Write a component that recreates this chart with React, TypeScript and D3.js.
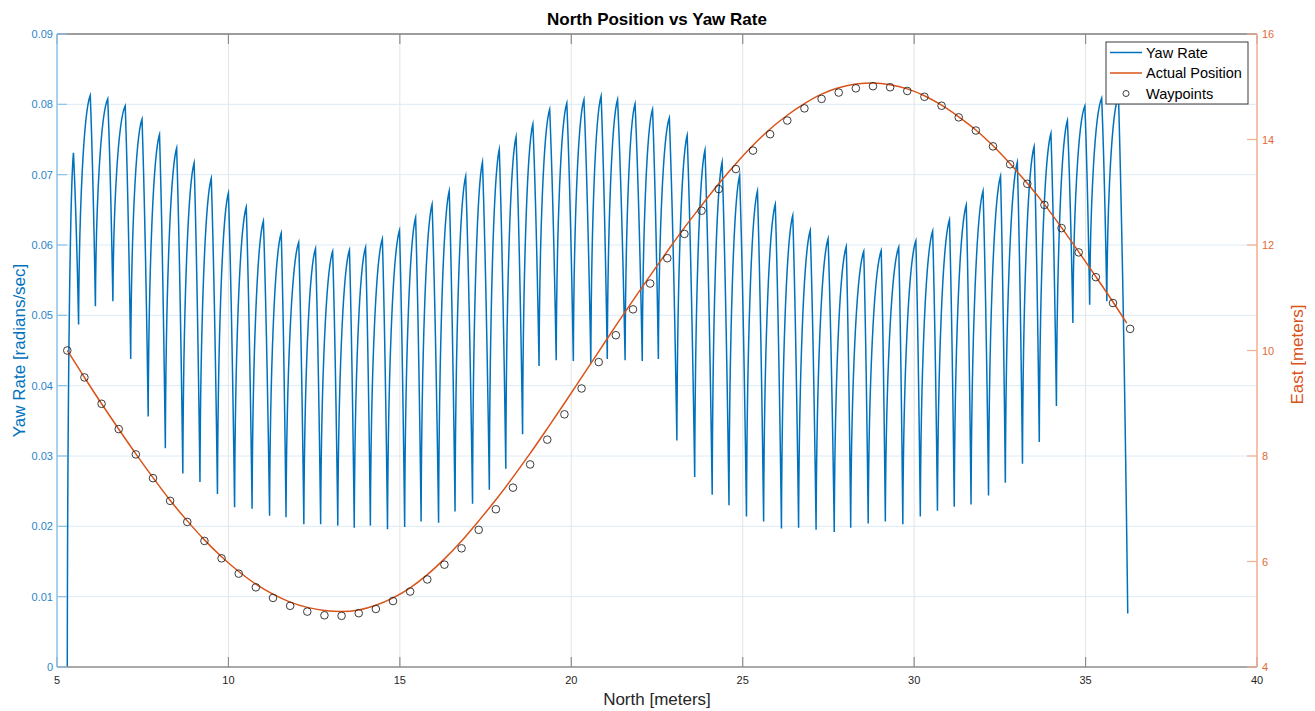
import React from 'react';
import * as d3 from 'd3';

// ---- data -------------------------------------------------------------

const xTicks = [5, 10, 15, 20, 25, 30, 35, 40];
const yawTicks = [0, 0.01, 0.02, 0.03, 0.04, 0.05, 0.06, 0.07, 0.08, 0.09];
const eastTicks = [4, 6, 8, 10, 12, 14, 16];

// yaw rate trace: starting sample, then one crest and one trough per cycle
const yawStart = { north: 5.3, rate: 0 };

const yawPeakNorth = [
  5.48, 5.97, 6.48, 6.99, 7.48, 7.99, 8.49, 9.0, 9.5, 10.0, 10.52, 11.02, 11.54, 12.05, 12.54, 13.04, 13.53,
  14.0, 14.49, 14.99, 15.46, 15.94, 16.44, 16.92, 17.41, 17.9, 18.39, 18.88, 19.37, 19.87, 20.37, 20.87, 21.35, 21.86,
  22.37, 22.86, 23.38, 23.9, 24.4, 24.91, 25.43, 25.95, 26.46, 26.97, 27.49, 28.02, 28.53, 29.04, 29.55, 30.05, 30.54,
  31.03, 31.52, 32.01, 32.52, 33.01, 33.5, 33.99, 34.47, 34.98, 35.47, 35.96,
];
const yawPeakRate = [
  0.0731, 0.0813, 0.0808, 0.0798, 0.0779, 0.0757, 0.0738, 0.0717, 0.0695, 0.0674, 0.0654, 0.0634, 0.0617, 0.0604, 0.0595, 0.0591, 0.0593,
  0.0597, 0.0609, 0.0621, 0.0639, 0.0658, 0.0677, 0.0698, 0.0718, 0.0736, 0.0754, 0.0772, 0.0793, 0.0802, 0.0807, 0.0812, 0.0807, 0.0801,
  0.0793, 0.0781, 0.0756, 0.0735, 0.0718, 0.0699, 0.0677, 0.0658, 0.0642, 0.0621, 0.0609, 0.0598, 0.0591, 0.0592, 0.0597, 0.0606, 0.062,
  0.0636, 0.0657, 0.0677, 0.0698, 0.0718, 0.074, 0.0759, 0.0777, 0.0798, 0.0809, 0.0812,
];
const yawTroughNorth = [
  5.63, 6.12, 6.63, 7.15, 7.66, 8.16, 8.67, 9.17, 9.68, 10.18, 10.69, 11.2, 11.68, 12.2, 12.69, 13.19, 13.67,
  14.14, 14.64, 15.14, 15.62, 16.13, 16.61, 17.12, 17.61, 18.09, 18.58, 19.06, 19.56, 20.06, 20.57, 21.05, 21.57, 22.07,
  22.54, 23.08, 23.6, 24.11, 24.6, 25.11, 25.61, 26.13, 26.63, 27.14, 27.67, 28.15, 28.66, 29.16, 29.67, 30.18, 30.68,
  31.17, 31.66, 32.17, 32.66, 33.16, 33.65, 34.15, 34.63, 35.12, 35.62, 36.23,
];
const yawTroughRate = [
  0.0487, 0.0513, 0.052, 0.0438, 0.0356, 0.0311, 0.0275, 0.0263, 0.0246, 0.0227, 0.0225, 0.0215, 0.0213, 0.0203, 0.0203, 0.0201, 0.0198,
  0.0201, 0.0196, 0.0199, 0.0207, 0.0205, 0.0221, 0.0232, 0.0252, 0.0282, 0.0331, 0.0428, 0.0436, 0.0435, 0.0432, 0.0438, 0.0436, 0.0435,
  0.0438, 0.0322, 0.027, 0.0245, 0.023, 0.0214, 0.0207, 0.0197, 0.0198, 0.0195, 0.0192, 0.0198, 0.0204, 0.0207, 0.0203, 0.0214, 0.0222,
  0.0228, 0.0231, 0.0244, 0.0262, 0.0289, 0.032, 0.0371, 0.0489, 0.0515, 0.052, 0.0076,
];

// actual east position against north
const actualNorth = [
  5.3, 5.8, 6.3, 6.8, 7.3, 7.8, 8.3, 8.8, 9.3, 9.8, 10.3, 10.8, 11.3, 11.8, 12.3, 12.8, 13.3, 13.8, 14.3, 14.8,
  15.3, 15.8, 16.3, 16.8, 17.3, 17.8, 18.3, 18.8, 19.3, 19.8, 20.3, 20.8, 21.3, 21.8, 22.3, 22.8, 23.3, 23.8,
  24.3, 24.8, 25.3, 25.8, 26.3, 26.8, 27.3, 27.8, 28.3, 28.8, 29.3, 29.8, 30.3, 30.8, 31.3, 31.8, 32.3, 32.8,
  33.3, 33.8, 34.3, 34.8, 35.3, 35.8, 36.2,
];
const actualEast = [
  10.0, 9.49, 8.99, 8.51, 8.04, 7.59, 7.16, 6.77, 6.41, 6.09, 5.81, 5.57, 5.38, 5.23, 5.13, 5.07, 5.05, 5.08, 5.17, 5.31,
  5.5, 5.75, 6.05, 6.39, 6.77, 7.17, 7.6, 8.05, 8.52, 9.0, 9.49, 9.98, 10.47, 10.95, 11.42, 11.88, 12.33, 12.75,
  13.16, 13.54, 13.89, 14.2, 14.46, 14.68, 14.86, 14.98, 15.05, 15.07, 15.04, 14.96, 14.83, 14.65, 14.43, 14.18, 13.88, 13.54,
  13.17, 12.77, 12.33, 11.87, 11.4, 10.92, 10.52,
];

// commanded waypoints
const waypointNorth = [
  5.3, 5.8, 6.3, 6.8, 7.3, 7.8, 8.3, 8.8, 9.3, 9.8, 10.3, 10.8, 11.3, 11.8, 12.3, 12.8, 13.3, 13.8, 14.3, 14.8,
  15.3, 15.8, 16.3, 16.8, 17.3, 17.8, 18.3, 18.8, 19.3, 19.8, 20.3, 20.8, 21.3, 21.8, 22.3, 22.8, 23.3, 23.8,
  24.3, 24.8, 25.3, 25.8, 26.3, 26.8, 27.3, 27.8, 28.3, 28.8, 29.3, 29.8, 30.3, 30.8, 31.3, 31.8, 32.3, 32.8,
  33.3, 33.8, 34.3, 34.8, 35.3, 35.8, 36.3,
];
const waypointEast = [
  10.0, 9.49, 8.99, 8.51, 8.03, 7.58, 7.15, 6.75, 6.39, 6.06, 5.77, 5.51, 5.31, 5.16, 5.05, 4.98, 4.97, 5.02, 5.1, 5.25,
  5.43, 5.66, 5.94, 6.25, 6.6, 6.99, 7.4, 7.84, 8.31, 8.79, 9.28, 9.78, 10.29, 10.78, 11.27, 11.75, 12.21, 12.65,
  13.06, 13.44, 13.79, 14.1, 14.36, 14.59, 14.77, 14.89, 14.97, 15.01, 14.99, 14.92, 14.81, 14.64, 14.42, 14.17, 13.87, 13.53,
  13.16, 12.76, 12.32, 11.86, 11.39, 10.9, 10.41,
];

// ---- layout -----------------------------------------------------------

const W = 1315;
const H = 711;
const PL = 57;
const PR = 1257;
const PT = 34;
const PB = 667;
const TICK = 10;

const BLUE = '#0072BD';
const ORANGE = '#D95319';
const BLUE_TEXT = '#2a85c8';
const ORANGE_TEXT = '#e06a36';
const DARK = '#262626';
const FONT = '"Liberation Sans", Arial, Helvetica, sans-serif';

const x = d3.scaleLinear().domain([5, 40]).range([PL, PR]);
const yYaw = d3.scaleLinear().domain([0, 0.09]).range([PB, PT]);
const yEast = d3.scaleLinear().domain([4, 16]).range([PB, PT]);

// Yaw trace: steep climb easing into a sharp crest, then a quick fall
function yawPath(): string {
  const p = d3.path();
  let x0 = x(yawStart.north);
  let y0 = yYaw(yawStart.rate);
  p.moveTo(x0, y0);
  yawPeakNorth.forEach((n, i) => {
    const xp = x(n);
    const yp = yYaw(yawPeakRate[i]);
    const dx = xp - x0;
    const dy = yp - y0;
    p.bezierCurveTo(x0 + 0.05 * dx, y0 + 0.52 * dy, x0 + 0.45 * dx, y0 + 0.93 * dy, xp, yp);
    const xt = x(yawTroughNorth[i]);
    const yt = yYaw(yawTroughRate[i]);
    p.quadraticCurveTo(xp + 0.55 * (xt - xp), yp + 0.35 * (yt - yp), xt, yt);
    x0 = xt;
    y0 = yt;
  });
  return p.toString();
}

const actualPoints = actualNorth.map((n, i) => [n, actualEast[i]] as [number, number]);
const actualLine = d3
  .line<[number, number]>()
  .x((d) => x(d[0]))
  .y((d) => yEast(d[1]))
  .curve(d3.curveMonotoneX);

const fmtYaw = (v: number) => (v === 0 ? '0' : d3.format('.2f')(v));

export default function App() {
  const legendX = 1106;
  const legendY = 42;
  const rows = [
    { label: 'Yaw Rate', kind: 'line', color: BLUE },
    { label: 'Actual Position', kind: 'line', color: ORANGE },
    { label: 'Waypoints', kind: 'marker', color: DARK },
  ];

  return (
    <svg
      width={W}
      height={H}
      style={{ position: 'absolute', left: 0, top: 0, background: '#fff' }}
      fontFamily={FONT}
    >
      <rect x={0} y={0} width={W} height={H} fill="#fff" />

      {/* grid */}
      <g>
        {xTicks.slice(1, -1).map((t) => (
          <line key={'gx' + t} x1={x(t)} x2={x(t)} y1={PT} y2={PB} stroke="#e4e4e4" strokeWidth={1} />
        ))}
        {yawTicks.slice(1, -1).map((t) => (
          <line key={'gy' + t} x1={PL} x2={PR} y1={yYaw(t)} y2={yYaw(t)} stroke="#dcebf6" strokeWidth={1} />
        ))}
      </g>

      {/* series */}
      <path d={yawPath()} fill="none" stroke={BLUE} strokeWidth={1.5} strokeLinejoin="miter" strokeMiterlimit={10} />
      <path d={actualLine(actualPoints) || ''} fill="none" stroke={ORANGE} strokeWidth={1.5} />
      {waypointNorth.map((n, i) => (
        <circle key={'wp' + i} cx={x(n)} cy={yEast(waypointEast[i])} r={3.8} fill="none" stroke={DARK} strokeWidth={0.9} />
      ))}

      {/* box: top and bottom */}
      <line x1={PL} x2={PR} y1={PT} y2={PT} stroke="#3a3a3a" strokeWidth={1} />
      <line x1={PL} x2={PR} y1={PB} y2={PB} stroke="#8c8c8c" strokeWidth={1.5} />

      {/* x ticks */}
      {xTicks.map((t) => (
        <g key={'xt' + t}>
          <line x1={x(t)} x2={x(t)} y1={PB} y2={PB - TICK} stroke="#8c8c8c" strokeWidth={1.2} />
          <line x1={x(t)} x2={x(t)} y1={PT} y2={PT + TICK} stroke="#8c8c8c" strokeWidth={1.2} />
          <text x={x(t)} y={680} fontSize={11} fill={DARK} textAnchor="middle" dominantBaseline="central">
            {t}
          </text>
        </g>
      ))}

      {/* left axis */}
      <line x1={PL} x2={PL} y1={PT} y2={PB} stroke="#8cc2e8" strokeWidth={1.5} />
      {yawTicks.map((t) => (
        <g key={'yl' + t}>
          <line x1={PL} x2={PL + TICK} y1={yYaw(t)} y2={yYaw(t)} stroke="#8cc2e8" strokeWidth={1.2} />
          <text x={53} y={yYaw(t)} fontSize={11} fill={BLUE_TEXT} textAnchor="end" dominantBaseline="central">
            {fmtYaw(t)}
          </text>
        </g>
      ))}

      {/* right axis */}
      <line x1={PR} x2={PR} y1={PT} y2={PB} stroke="#f3ad90" strokeWidth={1.5} />
      {eastTicks.map((t) => (
        <g key={'yr' + t}>
          <line x1={PR} x2={PR - TICK} y1={yEast(t)} y2={yEast(t)} stroke="#f3ad90" strokeWidth={1.2} />
          <text x={1262} y={yEast(t)} fontSize={11} fill={ORANGE_TEXT} textAnchor="start" dominantBaseline="central">
            {t}
          </text>
        </g>
      ))}

      {/* titles */}
      <text x={(PL + PR) / 2} y={19} fontSize={17} fontWeight="bold" fill="#000" textAnchor="middle" dominantBaseline="central">
        North Position vs Yaw Rate
      </text>
      <text x={(PL + PR) / 2} y={699} fontSize={17} fill={DARK} textAnchor="middle" dominantBaseline="central">
        North [meters]
      </text>
      <text
        transform={`translate(19, ${(PT + PB) / 2}) rotate(-90)`}
        fontSize={17}
        fill={BLUE}
        textAnchor="middle"
        dominantBaseline="central"
      >
        Yaw Rate [radians/sec]
      </text>
      <text
        transform={`translate(1297, ${(PT + PB) / 2 + 4}) rotate(-90)`}
        fontSize={17}
        fill={ORANGE}
        textAnchor="middle"
        dominantBaseline="central"
      >
        East [meters]
      </text>

      {/* legend */}
      <g>
        <rect x={legendX} y={legendY} width={142} height={62} fill="#fff" stroke="#3a3a3a" strokeWidth={1} />
        {rows.map((r, i) => {
          const cy = legendY + 10.5 + i * 20.5;
          return (
            <g key={r.label}>
              {r.kind === 'line' ? (
                <line x1={legendX + 4} x2={legendX + 36} y1={cy} y2={cy} stroke={r.color} strokeWidth={1.5} />
              ) : (
                <circle cx={legendX + 20} cy={cy} r={3} fill="none" stroke={r.color} strokeWidth={0.9} />
              )}
              <text x={legendX + 40} y={cy} fontSize={14.5} fill="#000" dominantBaseline="central">
                {r.label}
              </text>
            </g>
          );
        })}
      </g>
    </svg>
  );
}
